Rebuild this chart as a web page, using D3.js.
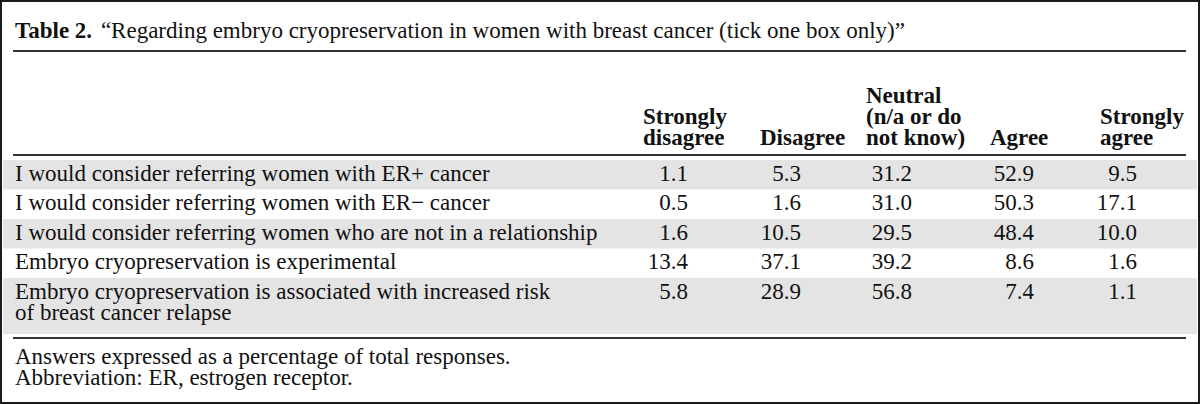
<!DOCTYPE html>
<html>
<head>
<meta charset="utf-8">
<script src="https://cdn.jsdelivr.net/npm/d3@7/dist/d3.min.js"></script>
<style>
  html, body { margin: 0; padding: 0; background: #fff; }
  svg { display: block; }
  text { font-family: "Liberation Serif", "Times New Roman", serif; fill: #111; }
</style>
</head>
<body>
<svg id="chart" width="1200" height="404"></svg>
<script>
// ---- data ----
const tableLabel = "Table 2.";
const tableTitle = "\u201CRegarding embryo cryopreservation in women with breast cancer (tick one box only)\u201D";
const columns = ["Strongly disagree", "Disagree", "Neutral", "Agree", "Strongly agree"];
const columnHeaderLines = [
  ["Strongly", "disagree"],
  ["Disagree"],
  ["Neutral", "(n/a or do", "not know)"],
  ["Agree"],
  ["Strongly", "agree"]
];
const statements = [
  ["I would consider referring women with ER+ cancer"],
  ["I would consider referring women with ER\u2212 cancer"],
  ["I would consider referring women who are not in a relationship"],
  ["Embryo cryopreservation is experimental"],
  ["Embryo cryopreservation is associated with increased risk", "of breast cancer relapse"]
];
const stronglyDisagree = [1.1, 0.5, 1.6, 13.4, 5.8];
const disagree         = [5.3, 1.6, 10.5, 37.1, 28.9];
const neutral          = [31.2, 31.0, 29.5, 39.2, 56.8];
const agree            = [52.9, 50.3, 48.4, 8.6, 7.4];
const stronglyAgree    = [9.5, 17.1, 10.0, 1.6, 1.1];
const footnotes = [
  "Answers expressed as a percentage of total responses.",
  "Abbreviation: ER, estrogen receptor."
];

// ---- layout ----
const W = 1200, H = 404;
const FS = 23;
const left = 15, ruleL = 13, ruleR = 1186;
const svg = d3.select("#chart");
const seriesByCol = [stronglyDisagree, disagree, neutral, agree, stronglyAgree];

// outer frame
svg.append("rect").attr("x", 1).attr("y", 1).attr("width", W - 2).attr("height", H - 2)
  .attr("fill", "#fff").attr("stroke", "#1a1a1a").attr("stroke-width", 2);

// title
const t = svg.append("text").attr("x", left).attr("y", 38).attr("font-size", FS);
t.append("tspan").attr("font-weight", "bold").text(tableLabel);
t.append("tspan").attr("dx", 3).text(" " + tableTitle);

function rule(y) {
  svg.append("line").attr("x1", ruleL).attr("x2", ruleR).attr("y1", y).attr("y2", y)
    .attr("stroke", "#333").attr("stroke-width", 2);
}
rule(51);

// column scale: right edge of values / left edge of headers
const xRight = d3.scaleOrdinal().domain(columns).range([688, 801, 912, 1034, 1137]);
const xHead = d3.scaleOrdinal().domain(columns).range([643, 760, 866, 990, 1100]);

// header (bottom aligned)
const headBase = 145, headLine = 21;
columns.forEach((c, i) => {
  const lines = columnHeaderLines[i];
  lines.forEach((ln, j) => {
    svg.append("text").attr("x", xHead(c))
      .attr("y", headBase - (lines.length - 1 - j) * headLine)
      .attr("font-size", FS).attr("font-weight", "bold").text(ln);
  });
});
rule(155);

// rows: cumulative line units -> y
const units = statements.map(s => s.length === 1 ? 1 : 1.9);
const cum = [0];
units.forEach(u => cum.push(cum[cum.length - 1] + u));
const y = d3.scaleLinear().domain([0, cum[cum.length - 1]]).range([160, 334]);

statements.forEach((s, i) => {
  const y0 = y(cum[i]), y1 = y(cum[i + 1]);
  if (i % 2 === 0) {
    svg.append("rect").attr("x", 3).attr("y", y0).attr("width", W - 6).attr("height", y1 - y0)
      .attr("fill", "#e4e4e4");
  }
  s.forEach((ln, j) => {
    svg.append("text").attr("x", left).attr("y", y0 + 21 + j * 21)
      .attr("font-size", FS).text(ln);
  });
  columns.forEach((c, k) => {
    svg.append("text").attr("x", xRight(c)).attr("y", y0 + 21)
      .attr("text-anchor", "end").attr("font-size", FS)
      .text(d3.format(".1f")(seriesByCol[k][i]));
  });
});
rule(338);

footnotes.forEach((f, i) => {
  svg.append("text").attr("x", left).attr("y", 364 + i * 21).attr("font-size", FS).text(f);
});
</script>
</body>
</html>
